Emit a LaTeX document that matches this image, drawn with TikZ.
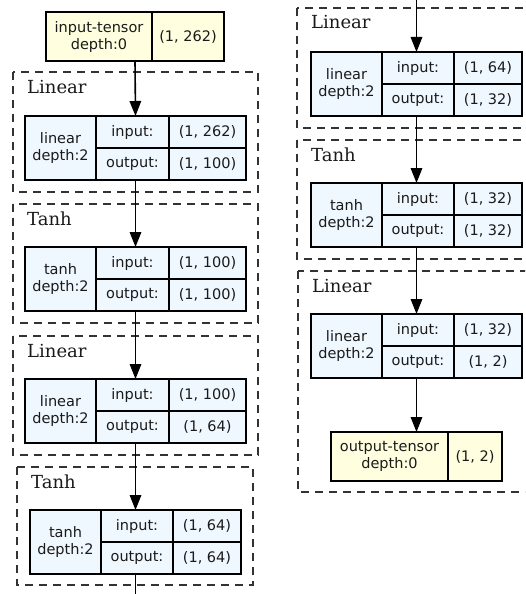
\documentclass[tikz,border=0pt]{standalone}
\usepackage{fontspec}
\setmainfont{DejaVu Sans}
\newfontfamily\clusterfont{DejaVu Serif}
\usetikzlibrary{arrows.meta}

\definecolor{layerfill}{HTML}{F0F8FF}
\definecolor{tensorfill}{HTML}{FFFFE0}
\definecolor{clusterline}{HTML}{333333}
\definecolor{inktext}{HTML}{1A1A1A}

\tikzset{
  cell/.style={draw=black, line width=1.4pt, anchor=north west, inner sep=0pt,
               outer sep=0pt, align=center, text=inktext,
               font=\fontsize{14.5}{17}\selectfont},
  frame/.style={anchor=north west, inner sep=0pt, outer sep=0pt},
  cluster/.style={draw=clusterline, line width=1.6pt, dash pattern=on 8pt off 6pt},
  clabel/.style={anchor=base west, inner sep=0pt, text=inktext,
                 font=\clusterfont\fontsize{18}{20}\selectfont},
  flow/.style={line width=1.6pt, -{Triangle[length=15pt,width=11.5pt]}},
  plainflow/.style={line width=1.6pt},
}

% layer table: name, x0, x1, x2, x3, top, kind, input shape, output shape
\newcommand\layertable[9]{%
  \pgfmathsetmacro\wa{#3-#2}%
  \pgfmathsetmacro\wb{#4-#3}%
  \pgfmathsetmacro\wc{#5-#4}%
  \pgfmathsetmacro\wall{#5-#2}%
  \node[frame, minimum width=\wall pt, minimum height=64pt] (#1) at (#2,#6) {};
  \node[cell, fill=layerfill, minimum width=\wa pt, minimum height=64pt] (#1-k) at (#2,#6) {#7};
  \node[cell, fill=layerfill, minimum width=\wb pt, minimum height=32pt] (#1-i) at (#3,#6) {input:};
  \node[cell, fill=layerfill, minimum width=\wc pt, minimum height=32pt] (#1-iv) at (#4,#6) {#8};
  \node[cell, fill=layerfill, minimum width=\wb pt, minimum height=32pt] (#1-o) at (#3,#6+32) {output:};
  \node[cell, fill=layerfill, minimum width=\wc pt, minimum height=32pt] (#1-ov) at (#4,#6+32) {#9};
}

% tensor table: name, x0, x1, x2, top, kind, shape
\newcommand\tensortable[7]{%
  \pgfmathsetmacro\wa{#3-#2}%
  \pgfmathsetmacro\wb{#4-#3}%
  \pgfmathsetmacro\wall{#4-#2}%
  \node[frame, minimum width=\wall pt, minimum height=49pt] (#1) at (#2,#5) {};
  \node[cell, fill=tensorfill, minimum width=\wa pt, minimum height=49pt] (#1-k) at (#2,#5) {#6};
  \node[cell, fill=tensorfill, minimum width=\wb pt, minimum height=49pt] (#1-v) at (#3,#5) {#7};
}

\begin{document}
\begin{tikzpicture}[x=1pt, y=-1pt]
  \useasboundingbox (0,0) rectangle (525,594);
  \clip (0,0) rectangle (525,594);

  % module clusters, left column
  \draw[cluster] (13,72) rectangle (258,192);
  \node[clabel] (c1) at (27,93) {Linear};
  \draw[cluster] (13,204) rectangle (258,323);
  \node[clabel] (c2) at (27,225) {Tanh};
  \draw[cluster] (13,336) rectangle (258,455);
  \node[clabel] (c3) at (27,357) {Linear};
  \draw[cluster] (17,467) rectangle (253,585);
  \node[clabel] (c4) at (31,488) {Tanh};

  % module clusters, right column
  \draw[cluster] (297,8) rectangle (535,128);
  \node[clabel] (c5) at (311,29) {Linear};
  \draw[cluster] (297,140) rectangle (535,259);
  \node[clabel] (c6) at (311,161) {Tanh};
  \draw[cluster] (298,271) rectangle (535,492);
  \node[clabel] (c7) at (312,292) {Linear};

  % tables
  \tensortable{inp}{46}{152}{224}{12}{input-tensor\\depth:0}{(1, 262)}
  \layertable{lina}{25}{96}{169}{246}{116}{linear\\depth:2}{(1, 262)}{(1, 100)}
  \layertable{tana}{25}{96}{169}{246}{247}{tanh\\depth:2}{(1, 100)}{(1, 100)}
  \layertable{linb}{25}{96}{169}{246}{379}{linear\\depth:2}{(1, 100)}{(1, 64)}
  \layertable{tanb}{30}{101}{173}{241}{510}{tanh\\depth:2}{(1, 64)}{(1, 64)}
  \layertable{linc}{311}{382}{454}{522}{52}{linear\\depth:2}{(1, 64)}{(1, 32)}
  \layertable{tanc}{311}{382}{454}{522}{183}{tanh\\depth:2}{(1, 32)}{(1, 32)}
  \layertable{lind}{311}{382}{454}{522}{314}{linear\\depth:2}{(1, 32)}{(1, 2)}
  \tensortable{outp}{331}{448}{502}{432}{output-tensor\\depth:0}{(1, 2)}

  % data flow
  \draw[flow] (inp.south) -- (lina.north);
  \draw[flow] (lina.south) -- (tana.north);
  \draw[flow] (tana.south) -- (linb.north);
  \draw[flow] (linb.south) -- (tanb.north);
  \coordinate (wrapdown) at (135.5,600);
  \draw[plainflow] (tanb.south) -- (wrapdown);
  \coordinate (wrapup) at (416.5,-6);
  \draw[flow] (wrapup) -- (linc.north);
  \draw[flow] (linc.south) -- (tanc.north);
  \draw[flow] (tanc.south) -- (lind.north);
  \draw[flow] (lind.south) -- (outp.north);
\end{tikzpicture}
\end{document}
